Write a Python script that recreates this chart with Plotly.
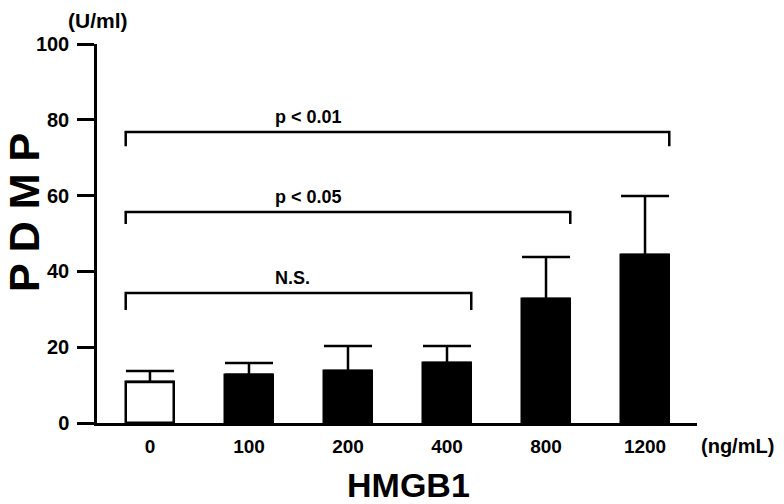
import plotly.graph_objects as go

categories = ["0", "100", "200", "400", "800", "1200"]
means = [10.8, 12.7, 13.7, 15.8, 32.7, 44.3]
upper = [13.7, 15.8, 20.3, 20.3, 43.8, 59.9]
colors = ["white", "black", "black", "black", "black", "black"]

sig_labels = ["p < 0.01", "p < 0.05", "N.S."]
sig_right = [5, 4, 3]          # category index of bracket right end
sig_level = [76.8, 55.7, 34.3]  # bracket height (U/ml)
sig_leg = [73.0, 52.5, 29.8]    # bottom of bracket legs
sig_text_x = [1.6, 1.6, 1.44]

xs = list(range(len(categories)))
err = [u - m for u, m in zip(upper, means)]
bw = 0.49

W, H = 784, 504
OFF = 8  # page body margin
L, T = 97 - OFF, 44 - OFF
pw, ph = 600, 379
R = W - L - pw
B = H - T - ph

def px(x):
    return (x - OFF - L) / pw

def py(y):
    return (T + ph - (y - OFF)) / ph

fig = go.Figure()
fig.add_trace(go.Bar(
    x=xs, y=means, width=bw,
    marker=dict(color=colors, line=dict(color="black", width=2.5)),
    error_y=dict(type="data", symmetric=False, array=err,
                 arrayminus=[0] * len(err), color="black",
                 thickness=2.5, width=24),
    showlegend=False,
))

font_family = "Liberation Sans, Arial, sans-serif"
for lab, ri, lv, lg, tx in zip(sig_labels, sig_right, sig_level, sig_leg, sig_text_x):
    x0 = 0 - bw / 2
    x1 = ri + bw / 2
    fig.add_shape(type="path",
                  path=f"M {x0} {lg} L {x0} {lv} L {x1} {lv} L {x1} {lg}",
                  xref="x", yref="y", line=dict(color="black", width=2.5))
    fig.add_annotation(x=tx, y=lv, xref="x", yref="y", text=f"<b>{lab}</b>",
                       showarrow=False, xanchor="center", yanchor="bottom", yshift=3,
                       font=dict(size=18, color="black", family=font_family))

def label(text, x, y, size, angle=0):
    fig.add_annotation(x=px(x), y=py(y), xref="paper", yref="paper",
                       text=text, showarrow=False, textangle=angle,
                       xanchor="center", yanchor="middle",
                       font=dict(size=size, color="black", family=font_family))

label("<b>(U/ml)</b>", 98, 20, 21)
label("<b>(ng/mL)</b>", 737, 446, 20)
label("<b>HMGB1</b>", 408, 485, 34)
label("<b>P D M P</b>", 24, 213, 43, angle=-90)

fig.update_layout(
    width=W, height=H, autosize=False,
    margin=dict(l=L, r=R, t=T, b=B),
    plot_bgcolor="white", paper_bgcolor="white",
    bargap=0,
    xaxis=dict(range=[-0.535, 5.525], tickvals=xs, ticktext=categories,
               showgrid=False, zeroline=False, showline=True,
               linecolor="black", linewidth=2.5, ticks="",
               ticklabelstandoff=4,
               tickfont=dict(size=19, color="black", family=font_family, weight="bold")),
    yaxis=dict(range=[0, 100], dtick=20, showgrid=False, zeroline=False,
               showline=True, linecolor="black", linewidth=2.5,
               ticks="outside", ticklen=17, tickwidth=2.5, tickcolor="black",
               ticklabelstandoff=4,
               tickfont=dict(size=20, color="black", family=font_family, weight="bold")),
)

fig.write_html("out.html")
